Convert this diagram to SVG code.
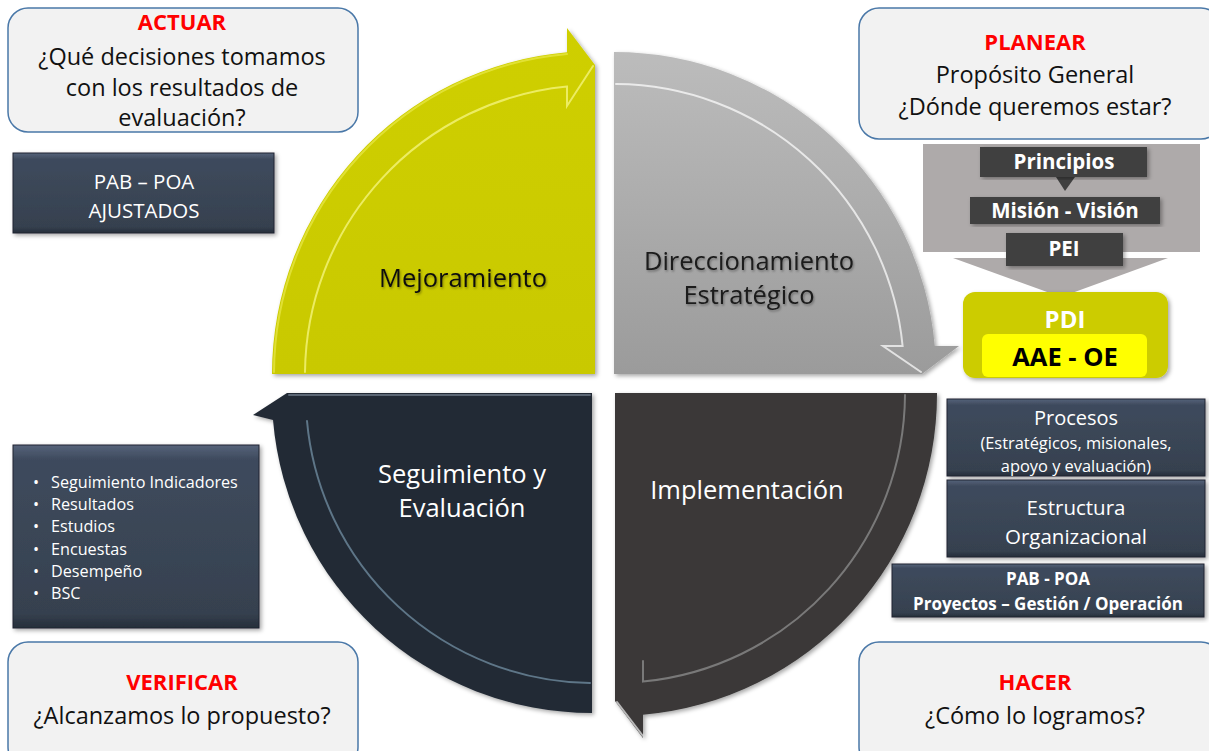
<svg xmlns="http://www.w3.org/2000/svg" width="1209" height="751" viewBox="0 0 1209 751">
<defs>
<style>
text{font-family:"Open Sans","Liberation Sans",sans-serif;text-anchor:middle}
.q{fill:#f2f2f2;stroke:#4a78a8;stroke-width:1.5}
.red{fill:#ff0000;font-weight:bold;font-size:22px}
.blk{fill:#111;font-size:23.5px}
.navy{fill:url(#gNavy);stroke:#1e2530;stroke-width:1}
.wt{fill:#fff}
.dk{fill:#404040}
.hl{fill:none;stroke-width:2;stroke-linecap:round}
.lbl{font-size:25.5px}
</style>
<linearGradient id="gNavy" x1="0" y1="0" x2="0" y2="1">
<stop offset="0" stop-color="#56637a"/>
<stop offset="0.08" stop-color="#3e4a5d"/>
<stop offset="0.92" stop-color="#36414f"/>
<stop offset="1" stop-color="#262e3a"/>
</linearGradient>
<linearGradient id="gGray" x1="0" y1="0" x2="0" y2="1">
<stop offset="0" stop-color="#bcbcbc"/>
<stop offset="1" stop-color="#9b9b9b"/>
</linearGradient>
<linearGradient id="gYel" x1="0" y1="0" x2="0" y2="1">
<stop offset="0" stop-color="#cfcf00"/>
<stop offset="1" stop-color="#c9c900"/>
</linearGradient>
<filter id="sh" x="-10%" y="-10%" width="120%" height="120%">
<feDropShadow dx="2" dy="2" stdDeviation="2" flood-color="#000" flood-opacity="0.35"/>
</filter>
<filter id="tsh" x="-10%" y="-30%" width="120%" height="160%">
<feDropShadow dx="1" dy="1.5" stdDeviation="1" flood-color="#000" flood-opacity="0.35"/>
</filter>
</defs>
<rect width="1209" height="751" fill="#fff"/>

<g id="mejoramiento">
<path d="M272,374 A323,323 0 0 1 567,52.2 L567,28 L595,65 L595,374 Z" fill="url(#gYel)" filter="url(#sh)"/>
<path class="hl" d="M305,372 A290,290 0 0 1 567,86.5 L567,106 L593,66" stroke="#f4f47a" stroke-opacity="0.8"/>
<path class="hl" d="M274,372 A321,321 0 0 1 567,54" stroke="#eeee55" stroke-opacity="0.6" stroke-width="1.5"/>
<text class="lbl" x="463" y="287" fill="#111" filter="url(#tsh)">Mejoramiento</text>
</g>

<g id="direccionamiento">
<path d="M614,52 A322,322 0 0 1 934.8,346 L959,346 L922,374 L614,374 Z" fill="url(#gGray)" filter="url(#sh)"/>
<path class="hl" d="M616,84 A290,290 0 0 1 902.6,346 L883,346 L921,372" stroke="#ffffff" stroke-opacity="0.7"/>
<text class="lbl" x="749" y="270" fill="#1a1a1a" filter="url(#tsh)">Direccionamiento</text>
<text class="lbl" x="749" y="304" fill="#1a1a1a" filter="url(#tsh)">Estratégico</text>
</g>

<g id="implementacion">
<path d="M615,393 L937,393 A322,322 0 0 1 643,714.8 L643,738 L615,701 Z" fill="#3a3838" filter="url(#sh)"/>
<path class="hl" d="M905,395 A290,290 0 0 1 643,681.6 L643,661" stroke="#8a8a8a" stroke-opacity="0.8" stroke-width="1.5"/>
<path class="hl" d="M617,702 L643,736" stroke="#d8d8d8" stroke-opacity="0.8" stroke-width="1.5"/>
<text class="lbl" x="747" y="499" fill="#fff">Implementación</text>
</g>

<g id="seguimiento">
<path d="M592,393 L592,713 A320,320 0 0 1 273,420 L253,415 L287,393 Z" fill="#232b36" filter="url(#sh)"/>
<path class="hl" d="M307,421 A288,288 0 0 0 590,683" stroke="#8fb4cc" stroke-opacity="0.55" stroke-width="1.5"/>
<path class="hl" d="M289,395 L590,395" stroke="#6a7585" stroke-opacity="0.8" stroke-width="1.5"/>
<text class="lbl" x="462" y="483" fill="#fff">Seguimiento y</text>
<text class="lbl" x="462" y="517" fill="#fff">Evaluación</text>
</g>

<g id="actuar">
<rect class="q" x="8" y="8" width="350" height="124" rx="20"/>
<text class="red" x="182" y="30">ACTUAR</text>
<text class="blk" x="182" y="65">¿Qué decisiones tomamos</text>
<text class="blk" x="182" y="96">con los resultados de</text>
<text class="blk" x="182" y="126">evaluación?</text>
</g>

<g id="planear">
<rect class="q" x="859" y="8" width="362" height="131" rx="20"/>
<text class="red" x="1035" y="50">PLANEAR</text>
<text class="blk" x="1035" y="83">Propósito General</text>
<text class="blk" x="1035" y="115">¿Dónde queremos estar?</text>
</g>

<g id="verificar">
<rect class="q" x="8" y="642" width="350" height="125" rx="20"/>
<text class="red" x="182" y="690">VERIFICAR</text>
<text class="blk" x="182" y="724">¿Alcanzamos lo propuesto?</text>
</g>

<g id="hacer">
<rect class="q" x="859" y="642" width="362" height="125" rx="20"/>
<text class="red" x="1035" y="690">HACER</text>
<text class="blk" x="1035" y="724">¿Cómo lo logramos?</text>
</g>

<g id="pab-poa-ajustados">
<rect class="navy" x="13" y="153" width="261" height="80" filter="url(#sh)"/>
<text class="wt" x="144" y="189" font-size="20.5">PAB – POA</text>
<text class="wt" x="144" y="218" font-size="20.5">AJUSTADOS</text>
</g>

<g id="indicadores">
<rect class="navy" x="13" y="445" width="246" height="183" filter="url(#sh)"/>
<g class="wt" font-size="16.2">
<text x="33" y="488" style="text-anchor:start">•</text><text x="51" y="488" style="text-anchor:start">Seguimiento Indicadores</text>
<text x="33" y="510" style="text-anchor:start">•</text><text x="51" y="510" style="text-anchor:start">Resultados</text>
<text x="33" y="532" style="text-anchor:start">•</text><text x="51" y="532" style="text-anchor:start">Estudios</text>
<text x="33" y="555" style="text-anchor:start">•</text><text x="51" y="555" style="text-anchor:start">Encuestas</text>
<text x="33" y="577" style="text-anchor:start">•</text><text x="51" y="577" style="text-anchor:start">Desempeño</text>
<text x="33" y="599" style="text-anchor:start">•</text><text x="51" y="599" style="text-anchor:start">BSC</text>
</g>
</g>

<g id="planear-panel">
<rect x="923" y="144" width="277" height="108" fill="#aeaaaa"/>
</g>

<g id="connectors">
<polygon points="953,258 1168,258 1061,297" fill="#aeaaaa"/>
<polygon points="1056,177 1075,177 1065,191" fill="#404040"/>
</g>

<g id="principios">
<rect class="dk" x="980" y="147" width="167" height="30" filter="url(#sh)"/>
<text class="wt" x="1064" y="169" font-size="20.5" font-weight="bold">Principios</text>
</g>

<g id="mision-vision">
<rect class="dk" x="970" y="197" width="190" height="27" filter="url(#sh)"/>
<text class="wt" x="1065" y="218" font-size="20.5" font-weight="bold">Misión - Visión</text>
</g>

<g id="pei">
<rect class="dk" x="1006" y="233" width="117" height="33" filter="url(#sh)"/>
<text class="wt" x="1064" y="256" font-size="20.5" font-weight="bold">PEI</text>
</g>

<g id="pdi">
<rect x="963" y="292" width="205" height="86" rx="12" fill="#cccc00" filter="url(#sh)"/>
<text class="wt" x="1065" y="328" font-size="24" font-weight="bold">PDI</text>
<rect x="982" y="334" width="165" height="43" rx="6" fill="#ffff00"/>
<text x="1065" y="366" font-size="25.5" font-weight="bold" fill="#000">AAE - OE</text>
</g>

<g id="procesos">
<rect class="navy" x="947" y="399" width="258" height="77" filter="url(#sh)"/>
<text class="wt" x="1076" y="425" font-size="20">Procesos</text>
<text class="wt" x="1076" y="449" font-size="16.4">(Estratégicos, misionales,</text>
<text class="wt" x="1076" y="472" font-size="16.4">apoyo y evaluación)</text>
</g>

<g id="estructura">
<rect class="navy" x="947" y="480" width="258" height="77" filter="url(#sh)"/>
<text class="wt" x="1076" y="515" font-size="20.5">Estructura</text>
<text class="wt" x="1076" y="544" font-size="20.5">Organizacional</text>
</g>

<g id="pab-poa-proyectos">
<rect class="navy" x="892" y="564" width="312" height="53" filter="url(#sh)"/>
<text class="wt" x="1048" y="585" font-size="17" font-weight="bold">PAB - POA</text>
<text class="wt" x="1048" y="610" font-size="17" font-weight="bold">Proyectos – Gestión / Operación</text>
</g>
</svg>
